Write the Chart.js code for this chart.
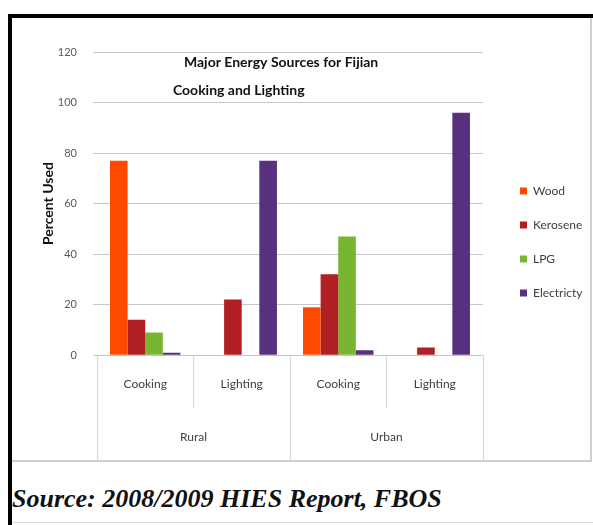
<!DOCTYPE html>
<html>
<head>
<meta charset="utf-8">
<script src="https://cdn.jsdelivr.net/npm/chart.js@4.4.1/dist/chart.umd.min.js"></script>
<style>
  html, body { margin: 0; padding: 0; background: #fff; width: 593px; height: 525px; overflow: hidden; }
  #outer { position: absolute; left: 8px; top: 14px; width: 590px; height: 520px;
           border-top: 4px solid #000; border-left: 4px solid #000; box-sizing: border-box; }
  #inner { position: absolute; left: 12px; top: 18px; width: 580px; height: 444px;
           border-right: 2px solid #d0d0d0; border-bottom: 2px solid #d0d0d0; box-sizing: border-box; }
  #chart { position: absolute; left: 12px; top: 18px; }
  #source { position: absolute; left: 12px; top: 484px; font-family: "Liberation Serif", "DejaVu Serif", serif;
            font-weight: bold; font-style: italic; font-size: 26px; line-height: 30px; color: #111; white-space: nowrap; }
  #bottomline { position: absolute; left: 12px; top: 522px; width: 581px; height: 1px; background: #ddd; }
</style>
</head>
<body>
<div id="outer"></div>
<div id="inner"></div>
<canvas id="chart" width="578" height="442"></canvas>
<div id="source">Source: 2008/2009 HIES Report, FBOS</div>
<div id="bottomline"></div>
<script>
const CATEGORIES = ['Cooking', 'Lighting', 'Cooking', 'Lighting'];
const GROUPS = ['Rural', 'Urban'];
const WOOD = [77, 0, 19, 0];
const KEROSENE = [14, 22, 32, 3];
const LPG = [9, 0, 47, 0];
const ELECTRICITY = [1, 77, 2, 96];
const SERIES_NAMES = ['Wood', 'Kerosene', 'LPG', 'Electricty'];
const TITLE_LINES = ['Major Energy Sources for Fijian', 'Cooking and Lighting'];
const Y_TITLE = 'Percent Used';

const COLORS = ['#FF4800', '#B01F22', '#78B530', '#57317F'];
const FONT = 'Lato, "Open Sans", sans-serif';

const titlePlugin = {
  id: 'innerTitle',
  afterDraw(chart) {
    const ctx = chart.ctx, a = chart.chartArea;
    ctx.save();
    ctx.fillStyle = '#111';
    ctx.font = 'bold 14px ' + FONT;
    ctx.textBaseline = 'middle';
    ctx.textAlign = 'left';
    ctx.fillText(TITLE_LINES[0], a.left + 87, a.top + 10);
    ctx.fillText(TITLE_LINES[1], a.left + 76, a.top + 38);
    ctx.restore();
  }
};

// category table lines under the plot, positioned from the x scales
const tableLines = {
  id: 'tableLines',
  afterDraw(chart) {
    const x = chart.scales.x, x2 = chart.scales.x2, ctx = chart.ctx;
    const n = x.ticks.length, step = (x.right - x.left) / n;
    const per = n / x2.ticks.length;
    ctx.save();
    ctx.strokeStyle = '#d6d6d6';
    ctx.lineWidth = 1;
    for (let i = 0; i <= n; i++) {
      const px = Math.round(x.getPixelForValue(0) - step / 2 + i * step) + 0.5;
      const yEnd = (i % per === 0) ? chart.height : x.bottom - 6;
      ctx.beginPath();
      ctx.moveTo(px, x.top);
      ctx.lineTo(px, yEnd);
      ctx.stroke();
    }
    ctx.restore();
  }
};

const legendPlace = {
  id: 'legendPlace',
  beforeLayout(chart) {
    const lg = chart.legend;
    if (lg && !lg._patched) {
      const orig = lg.fit;
      lg.fit = function () { orig.call(this); this.width = 107; };
      lg._patched = true;
    }
  },
  afterLayout(chart) {
    const lg = chart.legend;
    if (!lg) return;
    const pad = lg.options.labels.padding;
    const w = lg.width, h = lg.height;
    lg.left = 508 - pad;
    lg.right = lg.left + w;
    lg.top -= 14;
    lg.bottom = lg.top + h;
  }
};

new Chart(document.getElementById('chart'), {
  type: 'bar',
  data: {
    labels: CATEGORIES,
    datasets: [
      { label: SERIES_NAMES[0], data: WOOD, backgroundColor: COLORS[0] },
      { label: SERIES_NAMES[1], data: KEROSENE, backgroundColor: COLORS[1] },
      { label: SERIES_NAMES[2], data: LPG, backgroundColor: COLORS[2] },
      { label: SERIES_NAMES[3], data: ELECTRICITY, backgroundColor: COLORS[3] }
    ]
  },
  options: {
    responsive: false,
    animation: false,
    layout: { padding: { left: 15, top: 34, right: 0, bottom: 0 } },
    datasets: { bar: { categoryPercentage: 0.73, barPercentage: 1.0 } },
    scales: {
      x: {
        type: 'category',
        weight: 0,
        grid: { display: false, drawTicks: false },
        border: { display: true, color: '#c4c4c4' },
        ticks: { padding: 22, color: '#404040', font: { family: FONT, size: 12 } }
      },
      x2: {
        type: 'category',
        labels: GROUPS,
        offset: true,
        weight: 1,
        grid: { display: false, drawTicks: false },
        border: { display: false },
        ticks: { padding: 16, color: '#404040', font: { family: FONT, size: 12 } }
      },
      y: {
        min: 0, max: 120,
        ticks: { stepSize: 20, padding: 16, color: '#595959', font: { family: FONT, size: 11 } },
        grid: { color: '#c8c8c8', tickLength: 4 },
        border: { display: false },
        title: { display: true, text: Y_TITLE, color: '#111', padding: { top: 13, bottom: -15 },
                 font: { family: FONT, size: 14, weight: 'bold' } }
      }
    },
    plugins: {
      title: { display: false },
      tooltip: { enabled: false },
      legend: {
        position: 'right',
        align: 'center',
        labels: { boxWidth: 7, boxHeight: 7, padding: 22, color: '#404040',
                  font: { family: FONT, size: 12 } }
      }
    }
  },
  plugins: [titlePlugin, tableLines, legendPlace]
});
</script>
</body>
</html>
